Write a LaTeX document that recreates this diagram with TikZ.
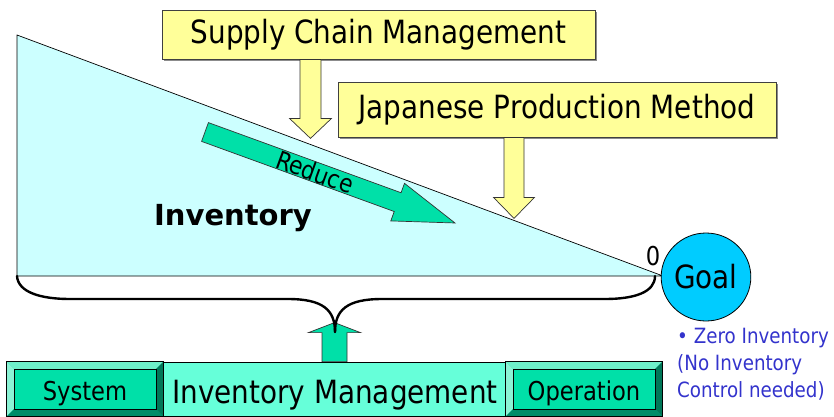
\documentclass[tikz,border=0pt]{standalone}
\usepackage{fontspec}
\setmainfont{DejaVu Sans}[FakeStretch=0.87]
\newfontfamily\invfont{DejaVu Sans}
\usetikzlibrary{calc,shapes.geometric}
\definecolor{trifill}{HTML}{CCFFFF}
\definecolor{ylw}{HTML}{FFFF99}
\definecolor{mint}{HTML}{66FFD9}
\definecolor{btn}{HTML}{00E0A8}
\definecolor{btnlight}{HTML}{6EF0CA}
\definecolor{btndark}{HTML}{008C68}
\definecolor{goalblue}{HTML}{00CCFF}
\definecolor{noteblue}{HTML}{3333CC}
\newcommand\fs[1]{\fontsize{#1}{#1}\selectfont}
% #1 style, #2 start point, #3 angle, #4 length, #5 shaft half width, #6 head half width, #7 head length
\newcommand\blockarrow[7]{\begin{scope}[shift={#2},rotate=#3]
 \draw[#1] (0,-#5) -- ({#4-#7},-#5) -- ({#4-#7},-#6) -- (#4,0) -- ({#4-#7},#6) -- ({#4-#7},#5) -- (0,#5) -- cycle;
\end{scope}}
% bevel of a button node: #1 node name, #2 bevel size
\newcommand\bevelbtn[2]{%
 \fill[btnlight] (#1.north west) -- (#1.north east) -- ($(#1.north east)+(-#2,#2)$) -- ($(#1.north west)+(#2,#2)$) -- cycle;
 \fill[btnlight!80!white] (#1.north west) -- ($(#1.north west)+(#2,#2)$) -- ($(#1.south west)+(#2,-#2)$) -- (#1.south west) -- cycle;
 \fill[btndark] (#1.south west) -- ($(#1.south west)+(#2,-#2)$) -- ($(#1.south east)+(-#2,-#2)$) -- (#1.south east) -- cycle;
 \fill[btndark!85!black] (#1.north east) -- (#1.south east) -- ($(#1.south east)+(-#2,-#2)$) -- ($(#1.north east)+(-#2,#2)$) -- cycle;
 \draw[line width=0.6] ($(#1.north west)+(#2,#2)$) rectangle ($(#1.south east)+(-#2,-#2)$);
 \draw[line width=0.8] (#1.north west) rectangle (#1.south east);
}
\tikzset{
 ybox/.style={draw=black!75, line width=0.8, fill=ylw, inner sep=0pt, font=\fs{32}},
 yshadow/.style={fill=black!45},
 yarrow/.style={draw=black!80, line width=0.7, fill=ylw},
 garrow/.style={draw=black!80, line width=0.7, fill=btn},
 btnbox/.style={fill=btn, inner sep=0pt, minimum height=54pt, minimum width=156pt},
 btntext/.style={font=\fs{26}, inner sep=0pt, anchor=base},
 brace/.style={line width=2.4, line cap=round},
}
\begin{document}
\begin{tikzpicture}[x=1pt,y=-1pt]
\useasboundingbox (0,0) rectangle (834,416);
\clip (0,0) rectangle (834,416);
% triangle
\draw[fill=trifill, line width=0.7] (17,35) coordinate (tl) -- (17,276) coordinate (bl) -- (663,276) coordinate (tip) -- cycle;
% reduce arrow
\blockarrow{garrow}{(205,132)}{-20}{266}{10}{20}{61}
\node[rotate=-20, font=\fs{25}, inner sep=0pt] (reduce) at (315,172) {Reduce};
\node[font=\invfont\bfseries\fs{29}, inner sep=0pt, anchor=base] (inv) at (233,225) {Inventory};
% yellow boxes
\fill[yshadow] (164,12) rectangle (597,61);
\node[ybox, minimum width=433pt, minimum height=49pt] (scm) at (378.5,34.5) {Supply Chain Management};
\fill[yshadow] (340,84) rectangle (778,139);
\node[ybox, minimum width=438pt, minimum height=55pt] (jpm) at (557,109.5) {Japanese Production Method};
\blockarrow{yarrow}{($(scm.south)+(-68,0)$)}{-90}{79}{10.5}{21}{20}
\blockarrow{yarrow}{($(jpm.south)+(-43,0)$)}{-90}{81}{10}{20.5}{21}
% goal
\node[draw=black, line width=0.8, fill=goalblue, ellipse, minimum width=82pt, minimum height=88pt, inner sep=0pt, font=\fs{32}] (goal) at (706,277) {Goal};
\node[font=\fs{26}, inner sep=0pt] (zero) at (653,256) {0};
\node[font={\fontsize{21}{25}\selectfont}, text=noteblue, align=left, anchor=north west, inner sep=0pt] (note) at (677,328)
 {• Zero Inventory\\[2pt](No Inventory\\[2pt]Control needed)};
% bottom bar
\node[fill=mint, draw=black, line width=0.8, minimum width=655pt, minimum height=54pt, inner sep=0pt] (im) at (334.5,389) {};
\node[font=\fs{32}, inner sep=0pt, anchor=base] (imtext) at (335,403) {Inventory Management};
\node[btnbox] (system) at (85,389) {};
\bevelbtn{system}{7}
\node[btntext] at (85,400) {System};
\node[btnbox] (operation) at (584,389) {};
\bevelbtn{operation}{7}
\node[btntext] at (584,400) {Operation};
% up arrow and brace
\blockarrow{garrow}{($(im.north)+(0,0)$)}{90}{39}{12.5}{26}{10}
\coordinate (bcusp) at (335,332);
\draw[brace] (bl) .. controls (18,292) and (40,299) .. (70,299) -- (288,299)
  .. controls (323,299) and (335,310) .. (bcusp);
\draw[brace] (bcusp) .. controls (335,310) and (347,299) .. (382,299) -- (605,299)
  .. controls (635,299) and (655,292) .. (655,276);
\end{tikzpicture}
\end{document}
